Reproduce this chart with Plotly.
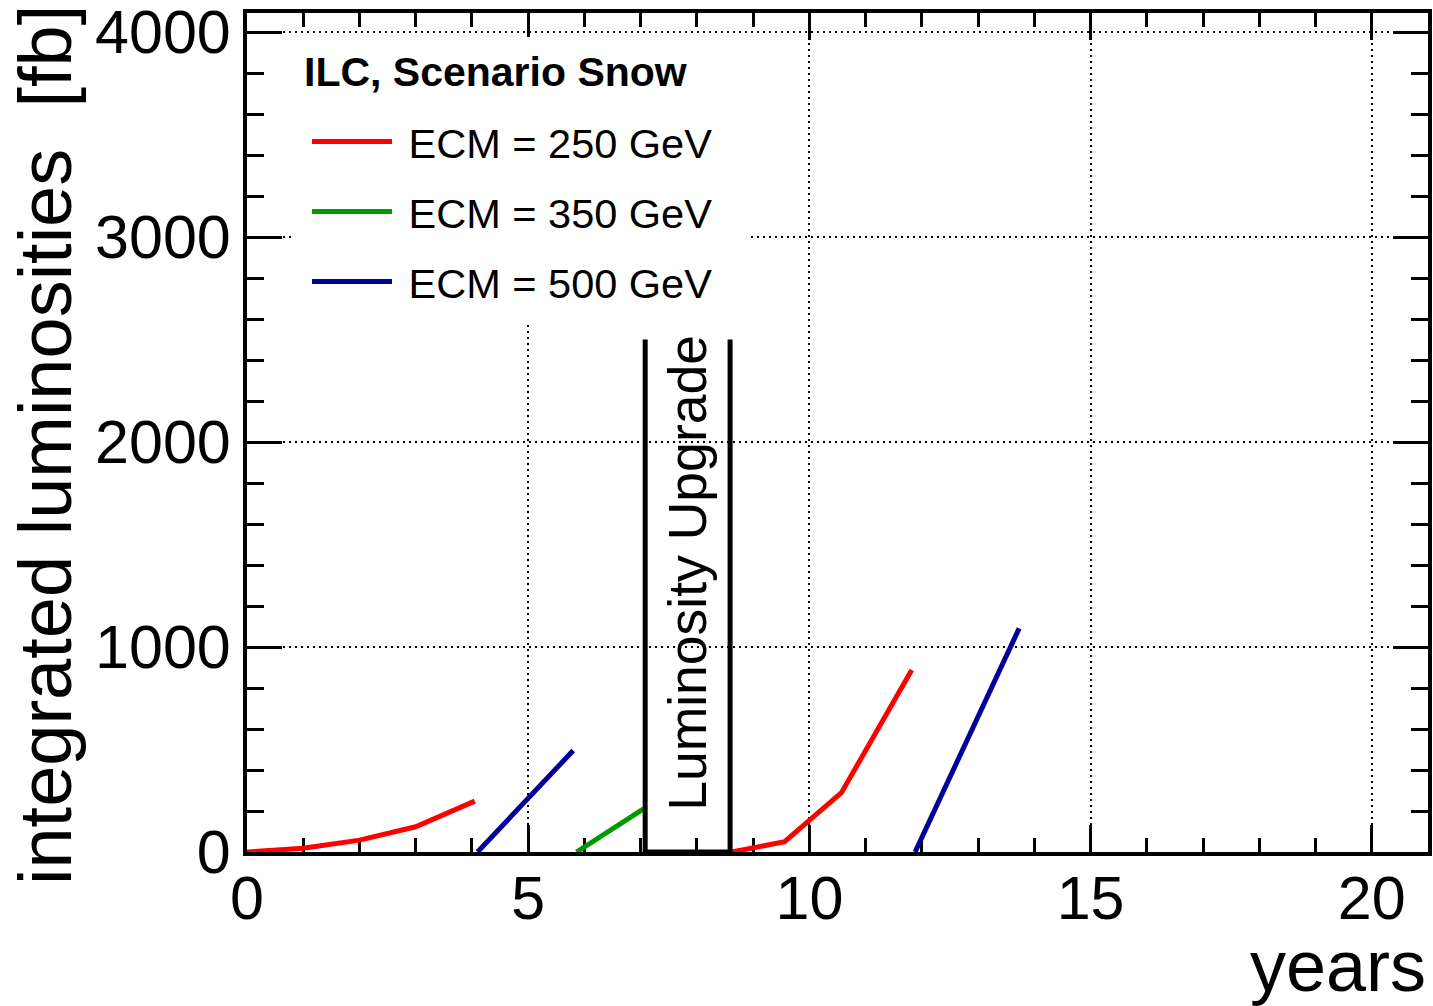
import plotly.graph_objects as go

# Integrated luminosity per run period (years since start, fb^-1)
years_250_first = [0, 1, 2, 3, 4.05]
lumi_250_first = [0, 18, 58, 123, 248]
years_500_first = [4.1, 5.8]
lumi_500_first = [0, 495]
years_350 = [5.86, 7.05]
lumi_350 = [0, 210]
years_250_second = [8.62, 9.56, 10.57, 11.82]
lumi_250_second = [0, 50, 289, 888]
years_500_second = [11.88, 13.73]
lumi_500_second = [0, 1091]

# Shutdown window for the luminosity upgrade
upgrade_start = 7.08
upgrade_end = 8.59
upgrade_top = 2500
upgrade_label = "Luminosity Upgrade"

x_ticks = [0, 5, 10, 15, 20]
y_ticks = [0, 1000, 2000, 3000, 4000]

FONT = "Liberation Sans, Arial, Helvetica, sans-serif"
RED = "#ff0000"
GREEN = "#009900"
BLUE = "#000099"

# Frame geometry in pixels (used to place paper-referenced decorations)
W, H = 1433, 1006
L, R, T, B = 247, 5, 13, 154
PW, PH = W - L - R, H - T - B


def px_x(p):
    return (p - L) / PW


def px_y(p):
    return (H - B - p) / PH


series = [
    ("ECM = 250 GeV", RED, [(years_250_first, lumi_250_first), (years_250_second, lumi_250_second)]),
    ("ECM = 350 GeV", GREEN, [(years_350, lumi_350)]),
    ("ECM = 500 GeV", BLUE, [(years_500_first, lumi_500_first), (years_500_second, lumi_500_second)]),
]

fig = go.Figure()
for name, color, segments in series:
    for i, (xs, ys) in enumerate(segments):
        fig.add_trace(go.Scatter(
            x=xs, y=ys, mode="lines", name="\u00a0" + name,
            legendgroup=name, showlegend=(i == 0),
            line=dict(color=color, width=5),
            cliponaxis=False,
        ))

# White panel behind the legend block
fig.add_shape(type="rect", xref="paper", yref="paper",
              x0=px_x(295), x1=px_x(751), y0=px_y(322), y1=px_y(37),
              fillcolor="white", line=dict(width=0), layer="above")

# Upgrade window outline
fig.add_shape(type="path",
              path=f"M {upgrade_start},{upgrade_top} L {upgrade_start},0 L {upgrade_end},0 L {upgrade_end},{upgrade_top}",
              xref="x", yref="y", line=dict(color="black", width=5), layer="above")
fig.add_annotation(x=(upgrade_start + upgrade_end) / 2, y=upgrade_top / 2 + 110,
                   xref="x", yref="y", text=upgrade_label, textangle=-90,
                   showarrow=False, font=dict(family=FONT, size=53.5, color="black"))

axis_common = dict(
    showline=True, linewidth=4, linecolor="black", mirror="ticks",
    ticks="inside", tickwidth=3, tickcolor="black",
    showgrid=True, gridcolor="black", gridwidth=1.5, griddash="2px,4px",
    zeroline=False, layer="below traces", ticklabeloverflow="allow",
    automargin=False,
    tickfont=dict(family=FONT, size=61, color="black"),
)

fig.update_xaxes(range=[0, 21], tickvals=x_ticks, ticklen=27,
                 minor=dict(dtick=1, ticks="inside", ticklen=14, tickwidth=3,
                            tickcolor="black", showgrid=False),
                 ticklabelstandoff=-10, **axis_common)
fig.update_yaxes(range=[0, 4093], tickvals=y_ticks, ticklen=35,
                 minor=dict(dtick=200, ticks="inside", ticklen=17, tickwidth=3,
                            tickcolor="black", showgrid=False),
                 ticklabelstandoff=0, **axis_common)

# Axis titles
fig.add_annotation(xref="paper", yref="paper", x=px_x(45), y=px_y(3),
                   xanchor="center", yanchor="top", textangle=-90, showarrow=False,
                   text="integrated luminosities\u00a0\u00a0[fb]",
                   font=dict(family=FONT, size=74, color="black"))
fig.add_annotation(xref="paper", yref="paper", x=px_x(1428), y=px_y(966),
                   xanchor="right", yanchor="middle", showarrow=False,
                   text="years", font=dict(family=FONT, size=72, color="black"))

# Legend heading
fig.add_annotation(xref="paper", yref="paper", x=px_x(302), y=px_y(72),
                   xanchor="left", yanchor="middle", showarrow=False,
                   text="<b>ILC, Scenario Snow</b>",
                   font=dict(family=FONT, size=41, color="black"))

fig.update_layout(
    width=W, height=H,
    margin=dict(l=L, r=R, t=T, b=B, pad=0),
    plot_bgcolor="white", paper_bgcolor="white",
    legend=dict(
        x=px_x(307), y=px_y(108), xanchor="left", yanchor="top",
        bgcolor="rgba(0,0,0,0)", borderwidth=0,
        font=dict(family=FONT, size=41.5, color="black"),
        tracegroupgap=13, itemwidth=80,
    ),
)

fig.write_html("out.html")
